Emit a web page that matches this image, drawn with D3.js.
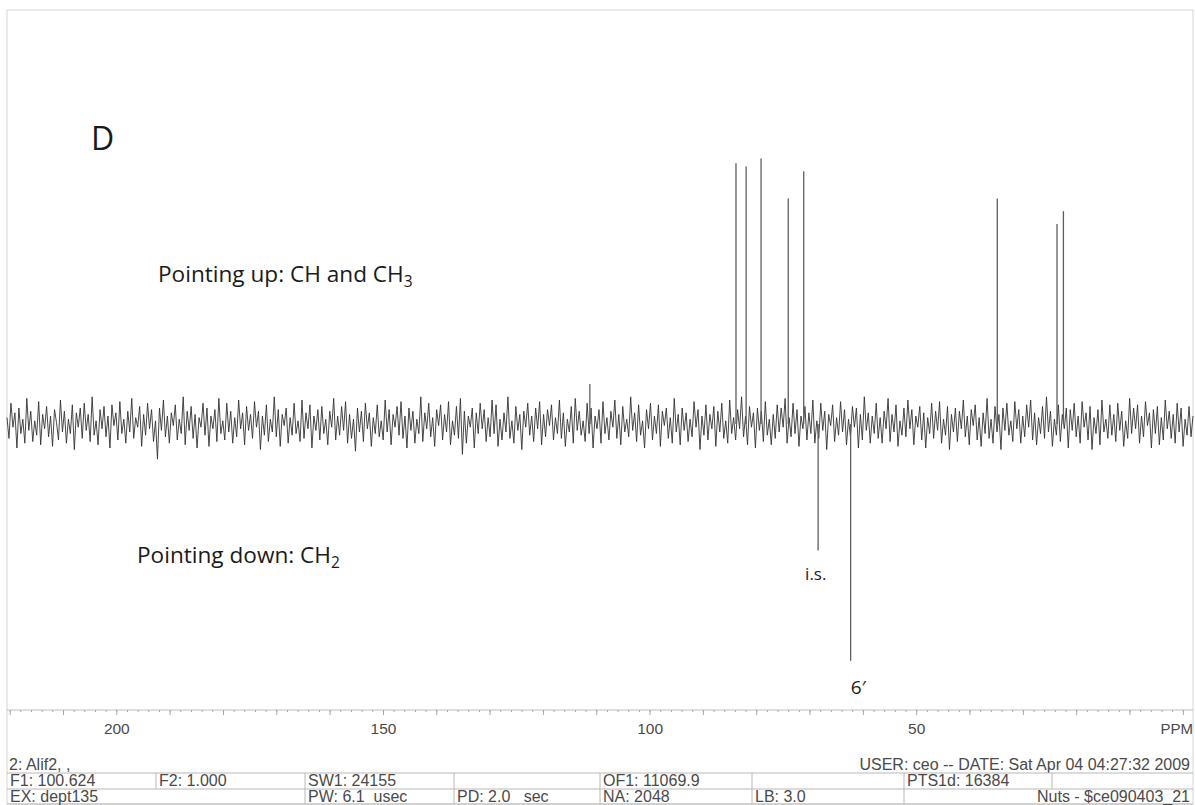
<!DOCTYPE html>
<html><head><meta charset="utf-8">
<script src="https://cdn.jsdelivr.net/npm/d3@7"></script>
<style>html,body{margin:0;padding:0;background:#fff;} svg{display:block;}</style>
</head><body>
<svg id="chart" width="1195" height="805"></svg>
<script>
// ---- data ----
const ppmDomain = [220.5, -1.9];
const tickLabels = [200, 150, 100, 50];
const peakPpm    = [83.8, 81.9, 79.1, 74.0, 71.1, 34.8, 23.6, 22.4, 111.2, 68.4, 62.3];
const peakHeight = [163, 161, 166, 141, 158, 141, 125, 133, 25, -79, -148];
const peakLabels = [{ppm: 68.4, h: -79, text: "i.s."}, {ppm: 62.3, h: -148, text: "6\u2032"}];
const noise = [
4,-9,13,-2,7,-15,10,-6,3,-12,16,-4,8,-11,2,-7,14,-13,6,-3,
11,-8,5,-14,9,1,-10,15,-5,8,-12,3,-6,12,-16,7,-2,10,-9,13,
-4,6,-11,17,-7,2,-13,9,-3,11,-8,5,-15,12,-1,7,-10,14,-6,3,
-12,8,-5,16,-9,4,-2,11,-14,6,-7,13,-3,9,-11,2,-22,10,-4,15,
-8,5,-12,7,-1,12,-10,3,-6,17,-13,8,-4,11,-9,6,-15,4,-2,13,
-7,10,-14,5,-3,9,-11,16,-6,2,-10,13,-5,8,-12,4,-8,15,-3,7,
-13,11,-4,6,-9,14,-2,8,-16,5,-7,12,-11,3,-5,17,-8,9,-14,6,
-1,10,-12,4,-7,13,-6,2,-11,15,-9,7,-3,12,-15,5,-4,9,-10,11,
-6,3,-13,8,-2,16,-10,5,-7,11,-4,14,-12,6,-9,3,-17,10,-5,8,
-11,13,-3,7,-14,4,-6,12,-8,2,-10,15,-5,9,-13,6,-2,11,-7,14,
-9,5,-15,10,-4,8,-12,3,-6,17,-11,7,-3,13,-8,4,-14,9,-1,12,
-10,6,-5,14,-13,2,-7,11,-9,16,-19,8,-12,5,-2,10,-15,7,-6,13,
-3,9,-11,4,-8,15,-6,12,-14,3,-10,7,-5,17,-9,2,-12,11,-4,6,
-16,8,-2,13,-7,5,-11,10,-3,14,-13,6,-8,9,-1,12,-10,4,-6,15,
-9,7,-14,3,-5,11,-12,16,-4,8,-7,2,-11,13,-6,10,-15,5,-3,9,
-12,14,-6,4,-10,8,-2,15,-9,6,-13,11,-5,3,-8,17,-4,7,-11,12,
-7,2,-15,9,-3,13,-10,5,-6,12,-14,8,-1,10,-9,4,-12,16,-5,6,
-13,10,-4,7,-11,3,-8,14,-2,9,-16,5,-7,12,-10,6,-3,11,-14,8,
-5,13,-9,2,-12,15,-6,4,-10,9,-3,17,-8,5,-13,11,-2,7,-15,10,
-4,8,-11,14,-7,3,-13,6,-9,12,-5,10,-2,16,-12,4,-8,13,-6,9,
-14,5,-3,11,-10,7,-6,15,-12,2,-9,13,-4,8,-16,6,-1,12,-11,4,
-7,14,-5,9,-13,3,-8,11,-2,10,-15,6,-10,17,-4,7,-12,5,-6,13,
-9,4,-12,8,-3,16,-11,6,-5,12,-14,2,-7,10,-8,15,-3,9,-13,5,
-2,11,-10,7,-15,4,-6,13,-9,8,-4,14,-12,3,-7,11,-16,6,-5,10,
-11,8,-3,15,-8,5,-13,9,-1,12,-10,4,-14,7,-6,16,-9,3,-12,11,
-5,6,-16,10,-4,13,-7,2,-11,14,-3,9,-12,5,-8,12,-2,15,-10,7,
-13,4,-6,11,-9,17,-5,8,-14,3,-7,12,-11,6,-3,10,-15,9,-4,13,
-8,5,-12,14,-2,7,-10,11,-16,4,-6,9,-13,15,-5,3,-9,12,-7,6,
-11,13,-4,8,-14,2,-9,16,-6,10,-3,12,-12,5,-8,14,-1,7,-15,9,
-6,11,-13,4,-10,15,-3,8,-9,6,-12,13,-5,10,-14,3,-7,11,-8,5
];
const footerTop = {left: "2: Alif2, ,", right: "USER: ceo -- DATE: Sat Apr 04 04:27:32 2009"};
const footerRow1 = [
  {text: "F1: 100.624", col: 0}, {text: "F2: 1.000", col: 1}, {text: "SW1: 24155", col: 2},
  {text: "", col: 3}, {text: "OF1: 11069.9", col: 4}, {text: "", col: 5},
  {text: "PTS1d: 16384", col: 6}, {text: "", col: 7}
];
const footerRow2 = [
  {text: "EX: dept135", col: 0}, {text: "PW: 6.1  usec", col: 2}, {text: "PD: 2.0   sec", col: 3},
  {text: "NA: 2048", col: 4}, {text: "LB: 3.0", col: 5}
];
const footerRow2Right = "Nuts - $ce090403_21";

// ---- layout ----
const frame = {x0: 7, x1: 1193, y0: 10, y1: 804};
const axisY = 710;
const colX = [7, 156, 305, 454, 600, 752, 904, 1052, 1193];
const row1Dividers = [156, 305, 454, 600, 752, 904, 1052];
const row2Dividers = [305, 454, 600, 752, 904];

const svg = d3.select("#chart");
const x = d3.scaleLinear().domain(ppmDomain).range([frame.x0, frame.x1]);
const y = d3.scaleLinear().domain([-178.75, 258.75]).range([axisY, 10]);

// frame
svg.append("rect").attr("x", frame.x0).attr("y", frame.y0)
  .attr("width", frame.x1 - frame.x0).attr("height", frame.y1 - frame.y0)
  .attr("fill", "none").attr("stroke", "#d4d4d4").attr("stroke-width", 1);

// noise trace
const step = (ppmDomain[0] - ppmDomain[1]) / (noise.length - 1);
const trace = noise.map((v, i) => [ppmDomain[0] - i * step, v]);
svg.append("path").datum(trace)
  .attr("fill", "none").attr("stroke", "#333").attr("stroke-width", 0.9)
  .attr("stroke-linejoin", "bevel")
  .attr("d", d3.line().x(d => x(d[0])).y(d => y(d[1])));

// peaks
svg.append("g").selectAll("line").data(peakPpm.map((p, i) => ({p, h: peakHeight[i]})))
  .join("line")
  .attr("x1", d => x(d.p)).attr("x2", d => x(d.p))
  .attr("y1", y(0)).attr("y2", d => y(d.h))
  .attr("stroke", "#5e5e5e").attr("stroke-width", 1.3);

// axis
const af = "'Liberation Sans', Arial, sans-serif";
const axisG = svg.append("g").attr("transform", `translate(0,${axisY})`);
axisG.append("line").attr("x1", frame.x0).attr("x2", frame.x1).attr("y1", 0).attr("y2", 0)
  .attr("stroke", "#bdbdbd").attr("stroke-width", 1);
const minor = axisG.append("g").call(d3.axisBottom(x).tickValues(d3.range(0, 221, 2)).tickSize(2).tickFormat(""));
const major = axisG.append("g").call(d3.axisBottom(x).tickValues(d3.range(0, 221, 10)).tickSize(5).tickFormat(""));
[minor, major].forEach(g => { g.select(".domain").remove(); g.selectAll("line").attr("stroke", "#a8a8a8"); });
const labels = axisG.append("g").call(d3.axisBottom(x).tickValues(tickLabels).tickSize(0).tickPadding(13));
labels.select(".domain").remove();
labels.selectAll("text").attr("font-family", af).attr("font-size", 15.5).attr("fill", "#4a4a4a");
svg.append("text").attr("x", 1193).attr("y", axisY + 24).attr("text-anchor", "end")
  .attr("font-family", af).attr("font-size", 15).attr("fill", "#4a4a4a").text("PPM");

// annotations
const tf = "'Open Sans', 'Noto Sans', sans-serif";
svg.append("text").attr("x", 91).attr("y", 150).attr("font-family", tf).attr("font-size", 32)
  .attr("fill", "#1a1a1a").text("D");
const up = svg.append("text").attr("x", 158).attr("y", 282).attr("font-family", tf).attr("font-size", 22.6).attr("fill", "#1a1a1a");
up.append("tspan").text("Pointing up: CH and CH");
up.append("tspan").attr("dy", 5).attr("font-size", 15.5).text("3");
const dn = svg.append("text").attr("x", 137).attr("y", 563).attr("font-family", tf).attr("font-size", 22.6).attr("fill", "#1a1a1a");
dn.append("tspan").text("Pointing down: CH");
dn.append("tspan").attr("dy", 5).attr("font-size", 15.5).text("2");
svg.selectAll(".plabel").data(peakLabels).join("text").attr("class", "plabel")
  .attr("x", (d, i) => x(d.ppm) + (i === 0 ? -13 : 0))
  .attr("y", (d, i) => y(d.h) + (i === 0 ? 30 : 33))
  .attr("font-family", tf).attr("font-size", (d, i) => i === 0 ? 17 : 19).attr("fill", "#1a1a1a")
  .text(d => d.text);

// footer
const fs = 16;
const fc = "#4a4a4a";
const lineC = "#b8b8b8";
svg.append("text").attr("x", 9).attr("y", 770).attr("font-family", af).attr("font-size", fs).attr("fill", fc).text(footerTop.left);
svg.append("text").attr("x", 1190).attr("y", 770).attr("text-anchor", "end").attr("font-family", af).attr("font-size", fs).attr("fill", fc).text(footerTop.right);
[773, 789, 804].forEach(yy => svg.append("line").attr("x1", frame.x0).attr("x2", frame.x1).attr("y1", yy).attr("y2", yy).attr("stroke", lineC));
row1Dividers.forEach(xx => svg.append("line").attr("x1", xx).attr("x2", xx).attr("y1", 773).attr("y2", 789).attr("stroke", lineC));
row2Dividers.forEach(xx => svg.append("line").attr("x1", xx).attr("x2", xx).attr("y1", 789).attr("y2", 804).attr("stroke", lineC));
footerRow1.forEach(c => svg.append("text").attr("x", colX[c.col] + 3).attr("y", 786).attr("font-family", af).attr("font-size", fs).attr("fill", fc).attr("xml:space", "preserve").text(c.text));
footerRow2.forEach(c => svg.append("text").attr("x", colX[c.col] + 3).attr("y", 802).attr("font-family", af).attr("font-size", fs).attr("fill", fc).attr("xml:space", "preserve").text(c.text));
svg.append("text").attr("x", 1190).attr("y", 802).attr("text-anchor", "end").attr("font-family", af).attr("font-size", fs).attr("fill", fc).text(footerRow2Right);
</script>
</body></html>
